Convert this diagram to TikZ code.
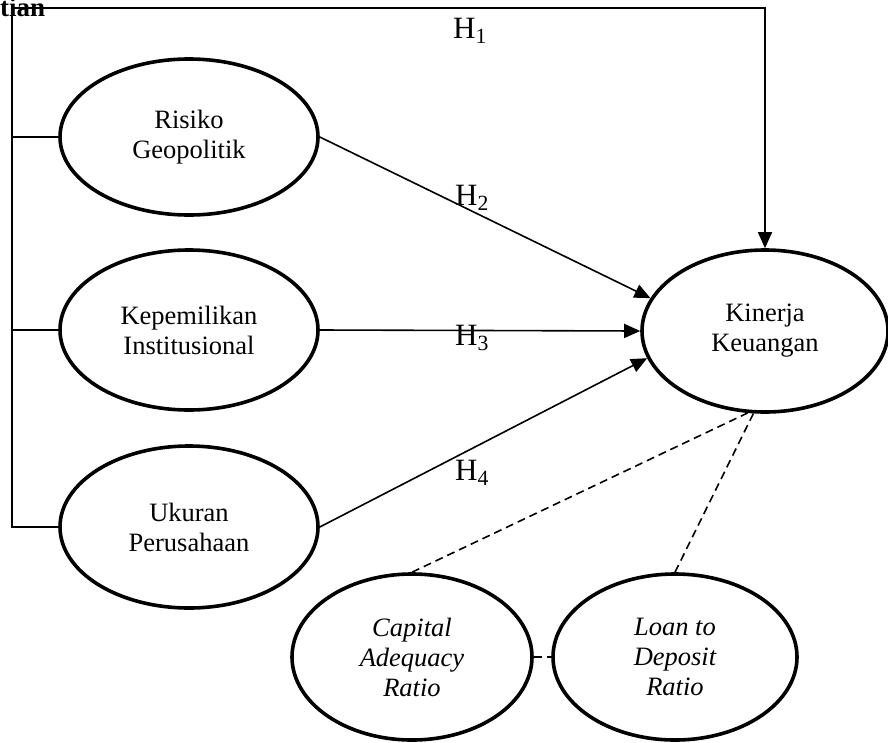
\documentclass[tikz,border=0pt]{standalone}
\usepackage{fontspec}
\setmainfont{Liberation Serif}
\usetikzlibrary{shapes.geometric,arrows.meta}
\begin{document}
\begin{tikzpicture}[x=1pt,y=-1pt,
  oval/.style={ellipse,draw,line width=3.6pt,inner sep=0pt,align=center,
    font=\fontsize{26.5}{30}\selectfont},
  conn/.style={line width=1.6pt},
  arr/.style={conn,-{Triangle[length=16pt,width=14pt]}},
  dsh/.style={line width=1.6pt,dash pattern=on 8pt off 5pt},
  hlab/.style={anchor=base west,inner sep=0pt,font=\fontsize{31}{34}\selectfont}]
\useasboundingbox (0,0) rectangle (888,742);
\node[anchor=base west,inner sep=0pt,font=\fontsize{27}{30}\selectfont\bfseries] (ttl) at (0,16) {tian};
\node[oval,minimum width=258pt,minimum height=156pt] (ris) at (189,137) {Risiko\\Geopolitik};
\node[oval,minimum width=258pt,minimum height=160pt] (kep) at (189,330) {Kepemilikan\\Institusional};
\node[oval,minimum width=258pt,minimum height=162pt] (uk) at (189,527) {Ukuran\\Perusahaan};
\node[oval,minimum width=246pt,minimum height=162pt] (kin) at (765,331) {Kinerja\\Keuangan};
\node[oval,minimum width=240pt,minimum height=166pt,font=\fontsize{26.5}{30}\selectfont\itshape] (car) at (412,657) {Capital\\Adequacy\\Ratio};
\node[oval,minimum width=244pt,minimum height=166pt,font=\fontsize{26.5}{30}\selectfont\itshape] (ldr) at (675,657) {Loan to\\Deposit\\Ratio};
\coordinate (tl) at (12,8);
\draw[arr] (uk.west) -| (tl) -| (kin.north);
\draw[conn] (ris.west) -- (ris.west -| tl);
\draw[conn] (kep.west) -- (kep.west -| tl);
\draw[arr] (ris.east) -- (kin.164);
\draw[arr] (kep.east) -- (kin.west);
\draw[arr] (uk.east) -- (kin.193);
\draw[dsh] (car.north) -- (kin.258);
\draw[dsh] (ldr.north) -- (kin.262);
\draw[dsh] (car.east) -- (ldr.west);
\node[hlab] (h1) at (453,38) {H\textsubscript{1}};
\node[hlab] (h2) at (455,205) {H\textsubscript{2}};
\node[hlab] (h3) at (455,345) {H\textsubscript{3}};
\node[hlab] (h4) at (455,480) {H\textsubscript{4}};
\end{tikzpicture}
\end{document}
